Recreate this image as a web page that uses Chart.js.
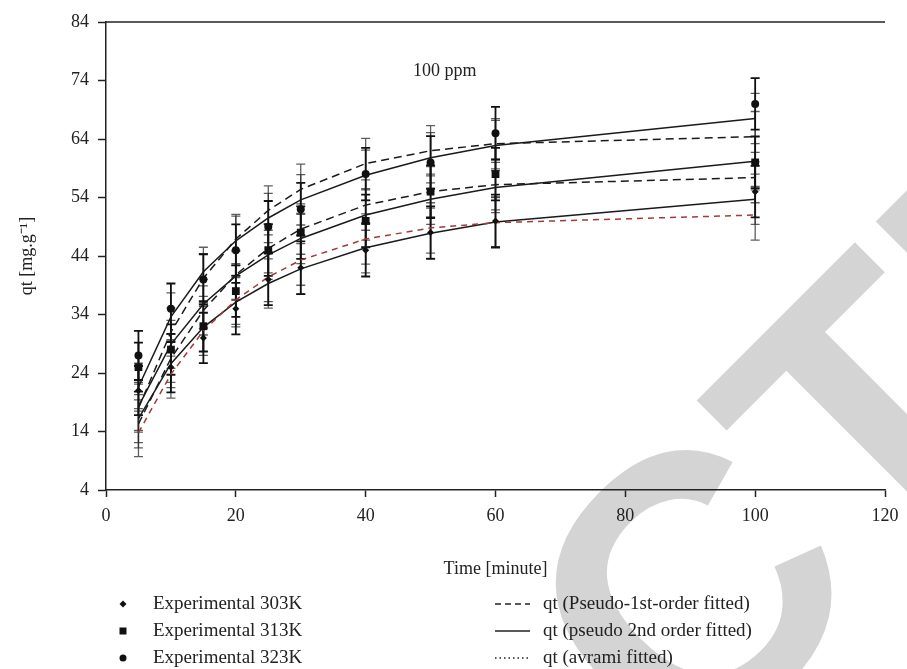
<!DOCTYPE html>
<html>
<head>
<meta charset="utf-8">
<script src="https://cdn.jsdelivr.net/npm/chart.js@4.4.1/dist/chart.umd.min.js"></script>
<style>
  body { margin: 0; background: #fff; }
  #wrap { width: 907px; height: 669px; }
</style>
</head>
<body>
<div id="wrap"><canvas id="myChart" width="907" height="669"></canvas></div>
<script>
// time points (minutes)
const times = [5, 10, 15, 20, 25, 30, 40, 50, 60, 100];

// experimental qt values
const exp303 = [21, 25, 30, 35, 40, 42, 45, 48, 50, 55];
const exp313 = [25, 28, 32, 38, 45, 48, 50, 55, 58, 60];
const exp323 = [27, 35, 40, 45, 49, 52, 58, 60, 65, 70];
const expErr = [4.2, 4.3, 4.3, 4.4, 4.4, 4.5, 4.5, 4.5, 4.5, 4.4];

// fitted curves
const pfo303 = [13.8, 23.8, 31.2, 36.5, 40.4, 43.3, 46.9, 48.8, 49.7, 51];
const pfo313 = [15.3, 26.5, 34.7, 40.8, 45.3, 48.6, 52.7, 55, 56.2, 57.4];
const pfo323 = [18, 31, 40.2, 46.9, 51.8, 55.4, 59.8, 62, 63.2, 64.4];
const pso303 = [16.2, 25.6, 31.8, 36.1, 39.3, 41.8, 45.4, 47.9, 49.8, 53.7];
const pso313 = [18.3, 28.9, 35.8, 40.6, 44.2, 47, 51, 53.7, 55.7, 60.2];
const pso323 = [21.6, 33.6, 41.3, 46.6, 50.5, 53.6, 57.8, 60.8, 62.9, 67.5];
const fitErr = [4.1, 4.1, 4.2, 4.2, 4.2, 4.3, 4.3, 4.3, 4.3, 4.3];

const yTicks = [4, 14, 24, 34, 44, 54, 64, 74, 84];
const xTicks = [0, 20, 40, 60, 80, 100, 120];

const FONT = "'Liberation Serif', 'Times New Roman', serif";

const pts = arr => times.map((t, i) => ({ x: t, y: arr[i] }));

function lineSet(label, arr, dash, color) {
  return {
    label: label, data: pts(arr), errs: fitErr, errColor: 'rgba(40,40,40,0.75)',
    showLine: true, borderColor: color, borderWidth: 1.5, borderDash: dash,
    pointRadius: 0, fill: false, tension: 0, order: 2
  };
}
function pointSet(label, arr, style, r) {
  return {
    label: label, data: pts(arr), errs: expErr, errColor: '#111',
    showLine: false, pointStyle: style, pointRadius: r,
    pointBackgroundColor: '#111', pointBorderColor: '#111', pointBorderWidth: 0, order: 1
  };
}

// retraction stamp behind the plot
const stamp = {
  id: 'stamp',
  beforeDraw(chart) {
    const { ctx } = chart;
    ctx.save();
    ctx.translate(-241, 1708);
    ctx.rotate(-Math.PI / 4);
    ctx.fillStyle = '#d4d4d4';
    ctx.font = "bold 380px 'Liberation Sans', Arial, sans-serif";
    ctx.textBaseline = 'alphabetic';
    ctx.fillText('RETRACTED', 0, 0);
    ctx.restore();
  }
};

// error bars drawn through the chart scales
const errorBars = {
  id: 'errorBars',
  beforeDatasetsDraw(chart) {
    const { ctx, scales: { x, y } } = chart;
    ctx.save();
    chart.data.datasets.forEach(ds => {
      if (!ds.errs) return;
      ctx.strokeStyle = ds.errColor;
      ctx.lineWidth = ds.showLine === false ? 1.8 : 1.3;
      ds.data.forEach((p, i) => {
        const px = x.getPixelForValue(p.x);
        const top = y.getPixelForValue(p.y + ds.errs[i]);
        const bot = y.getPixelForValue(p.y - ds.errs[i]);
        ctx.beginPath();
        ctx.moveTo(px, top); ctx.lineTo(px, bot);
        ctx.moveTo(px - 4.5, top); ctx.lineTo(px + 4.5, top);
        ctx.moveTo(px - 4.5, bot); ctx.lineTo(px + 4.5, bot);
        ctx.stroke();
      });
    });
    ctx.restore();
  }
};

// frame, annotation and legend
const extras = {
  id: 'extras',
  afterDraw(chart) {
    const { ctx, chartArea: a, scales: { x, y } } = chart;
    ctx.save();
    ctx.strokeStyle = '#222';
    ctx.lineWidth = 1.5;
    ctx.beginPath();
    ctx.moveTo(a.left, a.top); ctx.lineTo(a.right, a.top);
    ctx.stroke();

    ctx.fillStyle = '#222';
    ctx.font = '18px ' + FONT;
    ctx.textAlign = 'center';
    ctx.textBaseline = 'middle';
    ctx.fillText('100 ppm', x.getPixelForValue(52.2), y.getPixelForValue(75.5));

    // legend
    ctx.textAlign = 'left';
    ctx.font = '19px ' + FONT;
    const rows = [604, 631, 658];
    const lx = 123, tx = 153;
    ctx.fillStyle = '#111';
    // diamond
    ctx.beginPath();
    ctx.moveTo(lx, rows[0] - 3.5); ctx.lineTo(lx + 3.5, rows[0]);
    ctx.lineTo(lx, rows[0] + 3.5); ctx.lineTo(lx - 3.5, rows[0]); ctx.closePath(); ctx.fill();
    // square
    ctx.fillRect(lx - 3.5, rows[1] - 3.5, 7, 7);
    // circle
    ctx.beginPath(); ctx.arc(lx, rows[2], 3.5, 0, Math.PI * 2); ctx.fill();
    ctx.fillStyle = '#222';
    ctx.fillText('Experimental 303K', tx, rows[0]);
    ctx.fillText('Experimental 313K', tx, rows[1]);
    ctx.fillText('Experimental 323K', tx, rows[2]);

    const sx0 = 495, sx1 = 530, rtx = 543;
    ctx.strokeStyle = '#222';
    ctx.lineWidth = 1.3;
    [[6, 4], [], [1.5, 3]].forEach((d, i) => {
      ctx.setLineDash(d);
      ctx.beginPath(); ctx.moveTo(sx0, rows[i]); ctx.lineTo(sx1, rows[i]); ctx.stroke();
    });
    ctx.setLineDash([]);
    ctx.fillText('qt (Pseudo-1st-order fitted)', rtx, rows[0]);
    ctx.fillText('qt (pseudo 2nd order fitted)', rtx, rows[1]);
    ctx.fillText('qt (avrami fitted)', rtx, rows[2]);
    ctx.restore();
  }
};

const ctx = document.getElementById('myChart').getContext('2d');

new Chart(ctx, {
  type: 'scatter',
  data: {
    datasets: [
      lineSet('qt (Pseudo-1st-order fitted) 323K', pfo323, [8, 5], '#1a1a1a'),
      lineSet('qt (Pseudo-1st-order fitted) 313K', pfo313, [8, 5], '#1a1a1a'),
      lineSet('qt (Pseudo-1st-order fitted) 303K', pfo303, [6, 5], '#a33a3a'),
      lineSet('qt (pseudo 2nd order fitted) 323K', pso323, [], '#1a1a1a'),
      lineSet('qt (pseudo 2nd order fitted) 313K', pso313, [], '#1a1a1a'),
      lineSet('qt (pseudo 2nd order fitted) 303K', pso303, [], '#1a1a1a'),
      pointSet('Experimental 303K', exp303, 'rectRot', 3.5),
      pointSet('Experimental 313K', exp313, 'rect', 5.5),
      pointSet('Experimental 323K', exp323, 'circle', 4)
    ]
  },
  options: {
    responsive: false,
    animation: false,
    devicePixelRatio: 1,
    layout: { padding: { left: 0, top: 22, right: 22, bottom: 89 } },
    plugins: { legend: { display: false }, tooltip: { enabled: false } },
    scales: {
      x: {
        type: 'linear', min: 0, max: 120,
        afterBuildTicks: s => { s.ticks = xTicks.map(v => ({ value: v })); },
        afterFit: s => { s.height = 90; },
        border: { color: '#222', width: 1.5 },
        grid: { drawOnChartArea: false, drawTicks: true, tickLength: 7, tickColor: '#222', tickWidth: 1.5 },
        ticks: { color: '#222', padding: 8, font: { family: FONT, size: 18 }, maxRotation: 0 },
        title: { display: true, text: 'Time [minute]', color: '#222', font: { family: FONT, size: 18 }, padding: { top: 0, bottom: 0 } }
      },
      y: {
        min: 4, max: 84,
        afterBuildTicks: s => { s.ticks = yTicks.map(v => ({ value: v })); },
        afterFit: s => { s.width = 106; },
        border: { color: '#222', width: 1.5 },
        grid: { drawOnChartArea: false, drawTicks: true, tickLength: 8, tickColor: '#222', tickWidth: 1.5 },
        ticks: { color: '#222', padding: 9, font: { family: FONT, size: 18 } },
        title: { display: true, text: 'qt [mg.g\u207B\u00B9]', color: '#222', font: { family: FONT, size: 18 }, padding: { top: 16, bottom: 0 } }
      }
    }
  },
  plugins: [stamp, errorBars, extras]
});
</script>
</body>
</html>
